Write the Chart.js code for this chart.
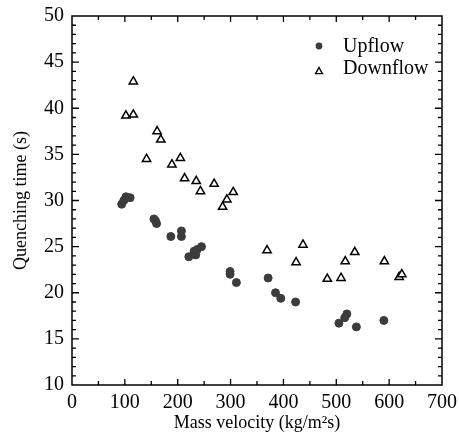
<!DOCTYPE html>
<html>
<head>
<meta charset="utf-8">
<script src="https://cdn.jsdelivr.net/npm/chart.js@4.4.0/dist/chart.umd.min.js"></script>
<style>
  body { margin: 0; background: #fff; }
  canvas { display: block; }
</style>
</head>
<body>
<canvas id="quench" width="459" height="437"></canvas>
<script>
// Values
const upflowX = [94, 98, 102, 110, 155, 158, 160, 187, 207, 207, 221, 231, 234, 237, 245, 299, 299, 311, 371, 385, 395, 423, 505, 516, 520, 538, 590];
const upflowY = [29.6, 30.0, 30.4, 30.3, 28.0, 27.8, 27.5, 26.1, 26.7, 26.1, 23.9, 24.5, 24.1, 24.7, 25.0, 22.3, 22.0, 21.1, 21.6, 20.0, 19.4, 19.0, 16.7, 17.3, 17.7, 16.3, 17.0];

const downflowX = [102, 116, 116, 141, 161, 168, 189, 205, 213, 235, 243, 269, 285, 293, 305, 369, 424, 437, 483, 509, 517, 535, 591, 619, 624];
const downflowY = [39.2, 39.3, 42.9, 34.5, 37.5, 36.6, 33.9, 34.6, 32.4, 32.1, 31.0, 31.8, 29.3, 30.1, 30.9, 24.6, 23.3, 25.2, 21.5, 21.6, 23.4, 24.4, 23.4, 21.7, 22.0];

const seriesNames = ['Upflow', 'Downflow'];
const xRange = [0, 700];
const yRange = [10, 50];

const serif = '"Liberation Serif", "DejaVu Serif", serif';

function toPoints(xs, ys) {
    return xs.map((x, i) => ({ x: x, y: ys[i] }));
}

// frame on all four sides with inward ticks, like the original plot
const frameTicks = {
    id: 'frameTicks',
    afterDatasetsDraw(chart) {
        const { ctx, chartArea: a, scales: { x, y } } = chart;
        ctx.save();
        ctx.strokeStyle = '#000';
        ctx.lineWidth = 1.5;
        ctx.strokeRect(a.left, a.top, a.right - a.left, a.bottom - a.top);

        ctx.lineWidth = 1.3;
        ctx.beginPath();
        for (let v = xRange[0] + 50; v < xRange[1]; v += 50) {
            const len = v % 100 === 0 ? 6 : 4;
            const px = x.getPixelForValue(v);
            ctx.moveTo(px, a.bottom); ctx.lineTo(px, a.bottom - len);
            ctx.moveTo(px, a.top); ctx.lineTo(px, a.top + len);
        }
        for (let v = yRange[0] + 1; v < yRange[1]; v += 1) {
            const len = v % 5 === 0 ? 7 : 4;
            const py = y.getPixelForValue(v);
            ctx.moveTo(a.left, py); ctx.lineTo(a.left + len, py);
            ctx.moveTo(a.right, py); ctx.lineTo(a.right - len, py);
        }
        ctx.stroke();

        // legend inside the plot, top right
        const lx = a.left + 247;
        const tx = a.left + 271;
        const ly1 = a.top + 30;
        const ly2 = a.top + 55;
        ctx.fillStyle = '#3c3c3c';
        ctx.beginPath();
        ctx.arc(lx, ly1, 3.4, 0, Math.PI * 2);
        ctx.fill();

        ctx.strokeStyle = '#000';
        ctx.lineWidth = 1.4;
        ctx.beginPath();
        ctx.moveTo(lx, ly2 - 3.5);
        ctx.lineTo(lx + 3.4, ly2 + 2.6);
        ctx.lineTo(lx - 3.4, ly2 + 2.6);
        ctx.closePath();
        ctx.stroke();

        ctx.fillStyle = '#000';
        ctx.font = '20px ' + serif;
        ctx.textBaseline = 'middle';
        ctx.textAlign = 'left';
        ctx.fillText(seriesNames[0], tx, ly1 + 1);
        ctx.fillText(seriesNames[1], tx, ly2 - 2);
        ctx.restore();
    }
};

new Chart(document.getElementById('quench'), {
    type: 'scatter',
    data: {
        datasets: [
            {
                label: seriesNames[0],
                data: toPoints(upflowX, upflowY),
                pointStyle: 'circle',
                pointRadius: 4,
                backgroundColor: '#3c3c3c',
                borderColor: '#3c3c3c',
                borderWidth: 1
            },
            {
                label: seriesNames[1],
                data: toPoints(downflowX, downflowY),
                pointStyle: 'triangle',
                pointRadius: 4.8,
                backgroundColor: '#fff',
                borderColor: '#000',
                borderWidth: 1.5
            }
        ]
    },
    options: {
        responsive: false,
        animation: false,
        layout: { padding: { top: 16, right: 17, left: 0, bottom: 0 } },
        plugins: {
            legend: { display: false },
            tooltip: { enabled: false }
        },
        scales: {
            x: {
                type: 'linear',
                min: xRange[0],
                max: xRange[1],
                afterFit: s => { s.height = 52; s.paddingLeft = 0; s.paddingRight = 0; },
                grid: { display: false, drawTicks: false },
                border: { display: false },
                ticks: {
                    stepSize: 100,
                    padding: 6,
                    color: '#000',
                    font: { family: serif, size: 20 },
                    maxRotation: 0
                },
                title: {
                    display: true,
                    text: 'Mass velocity (kg/m²s)',
                    color: '#000',
                    font: { family: serif, size: 18 },
                    padding: { top: 0, bottom: 3 }
                }
            },
            y: {
                type: 'linear',
                min: yRange[0],
                max: yRange[1],
                afterFit: s => { s.width = 72; s.paddingTop = 0; s.paddingBottom = 0; },
                grid: { display: false, drawTicks: false },
                border: { display: false },
                ticks: {
                    stepSize: 5,
                    padding: 8,
                    color: '#000',
                    font: { family: serif, size: 20 }
                },
                title: {
                    display: true,
                    text: 'Quenching time (s)',
                    color: '#000',
                    font: { family: serif, size: 18 },
                    padding: { top: 10, bottom: 0 }
                }
            }
        }
    },
    plugins: [frameTicks]
});
</script>
</body>
</html>
